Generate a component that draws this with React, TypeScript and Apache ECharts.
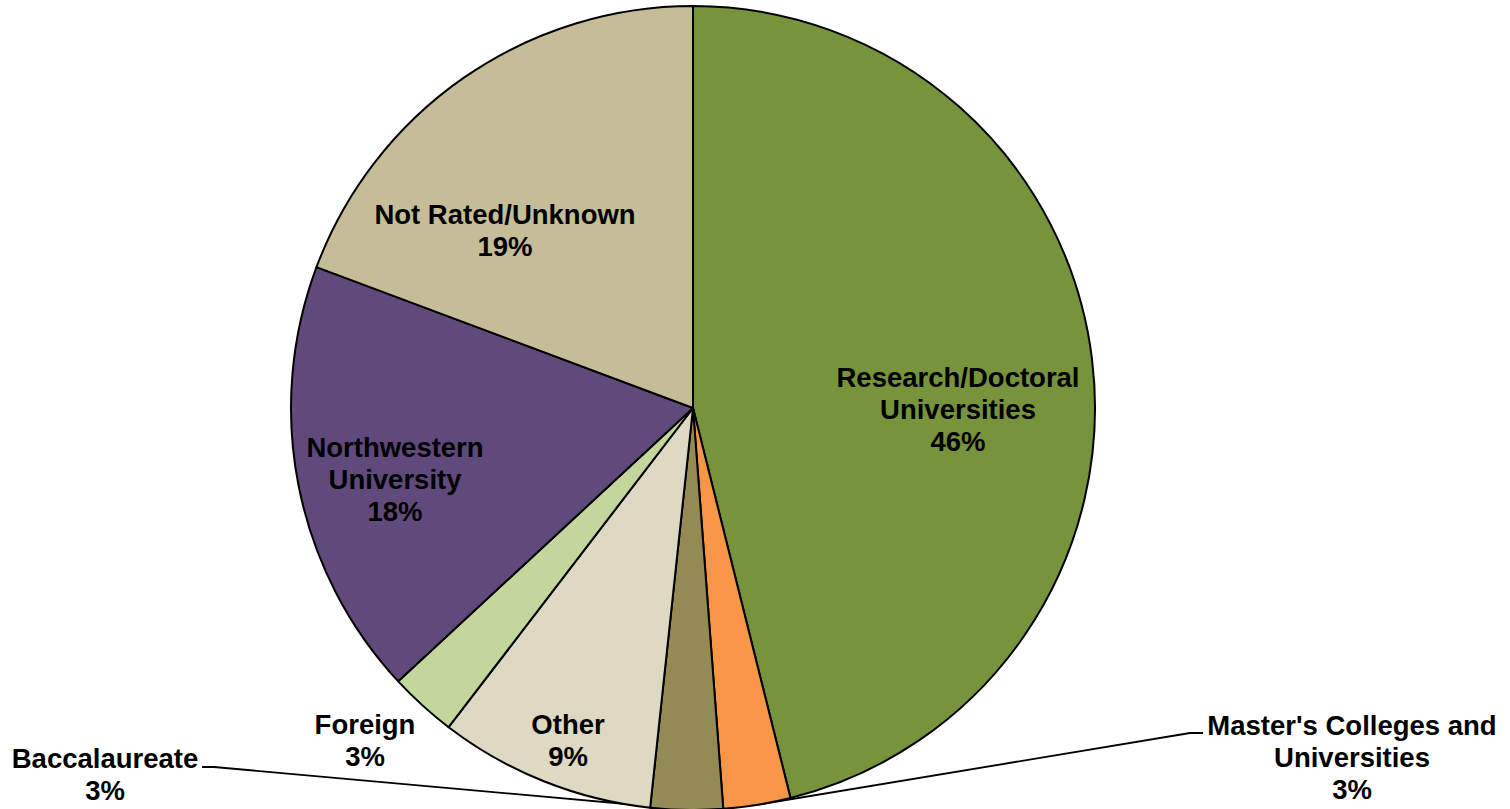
import React, { useEffect, useRef } from "react";
import * as echarts from "echarts";

const categories = [
  "Research/Doctoral\nUniversities",
  "Master's Colleges and\nUniversities",
  "Baccalaureate",
  "Other",
  "Foreign",
  "Northwestern\nUniversity",
  "Not Rated/Unknown",
];
const values = [46.1, 2.7, 2.9, 8.7, 2.7, 17.6, 19.3];
const colors = ["#77933C", "#F79646", "#948A54", "#DDD9C3", "#C3D69B", "#604A7B", "#C4BD97"];
const outsideLabels = [false, true, true, false, false, false, false];

// label anchor positions (centre of text block) and leader-line routes
const labelPos: Record<number, [number, number]> = {
  0: [958, 409],
  1: [1352, 757],
  2: [105, 774],
  3: [568, 740],
  4: [365, 740],
  5: [395, 479],
  6: [505, 230],
};
const leaderLines: Record<number, number[][]> = {
  1: [[756, 805], [1190, 733], [1203, 733]],
  2: [[659, 807], [214, 767], [202, 767]],
};

export default function App() {
  const ref = useRef<HTMLDivElement>(null);
  useEffect(() => {
    if (!ref.current) return;
    const chart = echarts.init(ref.current, undefined, { renderer: "svg" });
    const data = categories.map((name, i) => ({
      name,
      value: values[i],
      itemStyle: { color: colors[i] },
      label: { position: outsideLabels[i] ? "outside" : "inside" },
      labelLine: { show: outsideLabels[i] },
    }));
    chart.setOption({
      animation: false,
      backgroundColor: "#ffffff",
      series: [
        {
          type: "pie",
          center: [693, 408],
          radius: 402,
          startAngle: 90,
          clockwise: true,
          avoidLabelOverlap: false,
          itemStyle: { borderColor: "#000000", borderWidth: 2 },
          label: {
            show: true,
            fontFamily: "Liberation Sans, Arial, sans-serif",
            fontWeight: "bold",
            fontSize: 27.5,
            lineHeight: 32,
            color: "#000000",
            align: "center",
            formatter: (p: any) => `${p.name}\n${Math.round(p.percent)}%`,
          },
          labelLine: { show: false, lineStyle: { color: "#000000", width: 1.8 } },
          labelLayout: (params: any) => {
            const i = params.dataIndex;
            const pos = labelPos[i];
            const res: any = {
              x: pos[0],
              y: pos[1],
              align: "center",
              verticalAlign: "middle",
            };
            if (leaderLines[i]) res.labelLinePoints = leaderLines[i];
            return res;
          },
          emphasis: { disabled: true },
          data,
        },
      ],
    });
    return () => chart.dispose();
  }, []);
  return (
    <div
      ref={ref}
      style={{ position: "fixed", left: 0, top: 0, width: 1510, height: 809 }}
    />
  );
}
